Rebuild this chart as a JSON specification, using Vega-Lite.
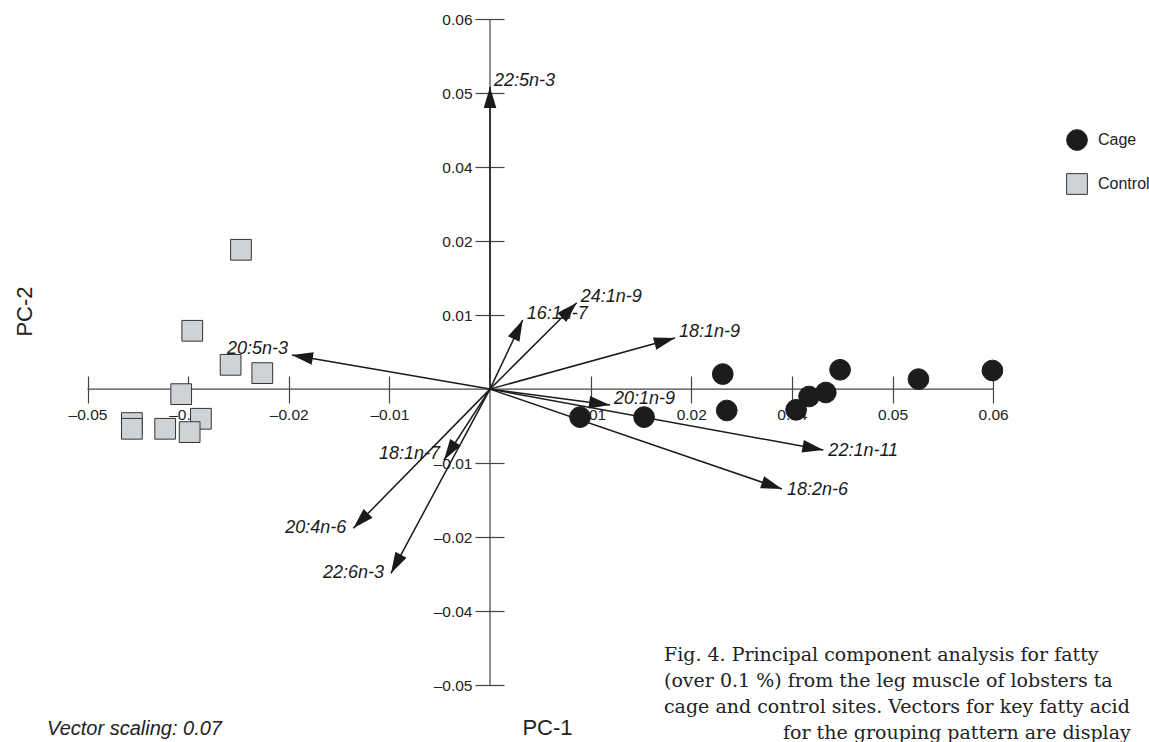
{
  "$schema": "https://vega.github.io/schema/vega-lite/v6.json",
  "width": 1127,
  "height": 718,
  "autosize": "none",
  "padding": {"left": 7, "top": 19, "right": 15, "bottom": 5},
  "background": "white",
  "config": {"view": {"stroke": null}, "font": "Liberation Sans"},
  "datasets": {
    "scores": [
      {"group": "Cage", "pc1": 0.00895, "pc2": -0.00378},
      {"group": "Cage", "pc1": 0.01531, "pc2": -0.00378},
      {"group": "Cage", "pc1": 0.02313, "pc2": 0.00203},
      {"group": "Cage", "pc1": 0.02353, "pc2": -0.00289},
      {"group": "Cage", "pc1": 0.03042, "pc2": -0.0028},
      {"group": "Cage", "pc1": 0.03171, "pc2": -0.001},
      {"group": "Cage", "pc1": 0.03337, "pc2": -0.00046},
      {"group": "Cage", "pc1": 0.03479, "pc2": 0.00261},
      {"group": "Cage", "pc1": 0.04258, "pc2": 0.00135},
      {"group": "Cage", "pc1": 0.04993, "pc2": 0.00251},
      {"group": "Control", "pc1": -0.02475, "pc2": 0.01882},
      {"group": "Control", "pc1": -0.02959, "pc2": 0.00788},
      {"group": "Control", "pc1": -0.02578, "pc2": 0.00328},
      {"group": "Control", "pc1": -0.02263, "pc2": 0.00216},
      {"group": "Control", "pc1": -0.03069, "pc2": -0.00068},
      {"group": "Control", "pc1": -0.02873, "pc2": -0.00401},
      {"group": "Control", "pc1": -0.03559, "pc2": -0.00459},
      {"group": "Control", "pc1": -0.03559, "pc2": -0.00536},
      {"group": "Control", "pc1": -0.03228, "pc2": -0.00536},
      {"group": "Control", "pc1": -0.02985, "pc2": -0.00581}
    ],
    "vectors": [
      {"label": "22:5n-3", "x": 0.0, "y": 0.0408},
      {"label": "16:1n-7", "x": 0.00325, "y": 0.00934},
      {"label": "24:1n-9", "x": 0.00862, "y": 0.01167},
      {"label": "18:1n-9", "x": 0.01838, "y": 0.0069},
      {"label": "20:5n-3", "x": -0.01968, "y": 0.00461},
      {"label": "20:1n-9", "x": 0.01193, "y": -0.00215},
      {"label": "22:1n-11", "x": 0.03313, "y": -0.00823},
      {"label": "18:2n-6", "x": 0.02902, "y": -0.0135},
      {"label": "18:1n-7", "x": -0.00457, "y": -0.00958},
      {"label": "20:4n-6", "x": -0.01358, "y": -0.01881},
      {"label": "22:6n-3", "x": -0.00984, "y": -0.02489}
    ]
  },
  "layer": [
    {
      "data": {"values": [{}]},
      "mark": {"type": "rule", "stroke": "#444", "strokeWidth": 1.2},
      "encoding": {
        "x": {
          "datum": -0.04, "type": "quantitative",
          "scale": {"domain": [-0.048, 0.064], "nice": false, "zero": false},
          "axis": {
            "values": [-0.04, -0.03, -0.02, -0.01, 0.01, 0.02, 0.03, 0.04, 0.05],
            "labelExpr": "datum.value < -0.035 ? '–0.05' : datum.value < -0.025 ? '–0.04' : datum.value < -0.015 ? '–0.02' : datum.value < 0 ? '–0.01' : datum.value < 0.015 ? '0.01' : datum.value < 0.025 ? '0.02' : datum.value < 0.035 ? '0.04' : datum.value < 0.045 ? '0.05' : '0.06'",
            "offset": -361, "tickSize": 27, "tickColor": "#444", "tickWidth": 1.2,
            "domain": false, "grid": false, "labelPadding": 4, "labelFontSize": 15.5,
            "labelColor": "#222", "labelFlush": false, "labelOverlap": false,
            "title": "PC-1", "titleX": 540, "titleY": 358, "titleBaseline": "alphabetic",
            "titleAlign": "center", "titleFontSize": 22, "titleFontWeight": "normal", "titleColor": "#222"
          }
        },
        "x2": {"datum": 0.05},
        "y": {
          "datum": 0, "type": "quantitative",
          "scale": {"domain": [-0.047, 0.05], "nice": false, "zero": false},
          "axis": {
            "values": [-0.04, -0.03, -0.02, -0.01, 0.01, 0.02, 0.03, 0.04, 0.05],
            "labelExpr": "datum.value < -0.035 ? '–0.05' : datum.value < -0.025 ? '–0.04' : datum.value < -0.015 ? '–0.02' : datum.value < 0 ? '–0.01' : datum.value < 0.015 ? '0.01' : datum.value < 0.025 ? '0.02' : datum.value < 0.035 ? '0.04' : datum.value < 0.045 ? '0.05' : '0.06'",
            "offset": -497, "tickSize": 29, "tickColor": "#444", "tickWidth": 1.2,
            "domain": false, "grid": false, "labelPadding": 3, "labelFontSize": 15.5,
            "labelColor": "#222", "labelFlush": false, "labelOverlap": false,
            "title": "PC-2", "titleX": -480, "titleY": 292, "titleBaseline": "middle",
            "titleAlign": "center", "titleFontSize": 22, "titleFontWeight": "normal", "titleColor": "#222"
          }
        }
      }
    },
    {
      "data": {"values": [{}]},
      "mark": {"type": "rule", "stroke": "#444", "strokeWidth": 1.2},
      "encoding": {
        "x": {"datum": 0, "type": "quantitative"},
        "y": {"datum": -0.04, "type": "quantitative"},
        "y2": {"datum": 0.05}
      }
    },
    {
      "data": {"name": "vectors"},
      "mark": {"type": "rule", "stroke": "#1a1a1a", "strokeWidth": 1.5},
      "encoding": {
        "x": {"field": "x", "type": "quantitative"},
        "y": {"field": "y", "type": "quantitative"},
        "x2": {"datum": 0},
        "y2": {"datum": 0}
      }
    },
    {
      "data": {"name": "vectors"},
      "transform": [{"calculate": "atan2(datum.x * 10062.5, datum.y * 7402) * 180 / PI", "as": "ang"}],
      "mark": {"type": "point", "shape": "M0,0L-0.3,1L0.3,1Z", "filled": true, "fill": "#1a1a1a", "opacity": 1, "size": 1764, "strokeWidth": 0},
      "encoding": {
        "x": {"field": "x", "type": "quantitative"},
        "y": {"field": "y", "type": "quantitative"},
        "angle": {"field": "ang", "type": "quantitative", "scale": null}
      }
    },
    {
      "data": {"name": "scores"},
      "mark": {"type": "point", "filled": true, "opacity": 1, "size": 430, "strokeWidth": 1},
      "encoding": {
        "x": {"field": "pc1", "type": "quantitative"},
        "y": {"field": "pc2", "type": "quantitative"},
        "shape": {
          "field": "group", "type": "nominal",
          "scale": {"domain": ["Cage", "Control"], "range": ["circle", "square"]},
          "legend": {"title": null, "orient": "none", "legendX": 1059, "legendY": 110, "symbolSize": 430, "labelFontSize": 16, "labelColor": "#222", "labelOffset": 10, "rowPadding": 18, "symbolStrokeWidth": 1}
        },
        "fill": {
          "field": "group", "type": "nominal",
          "scale": {"domain": ["Cage", "Control"], "range": ["#1c1c1f", "#d0d3d6"]},
          "legend": {"title": null, "orient": "none", "legendX": 1059, "legendY": 110, "symbolSize": 430, "labelFontSize": 16, "labelColor": "#222", "labelOffset": 10, "rowPadding": 18, "symbolStrokeWidth": 1}
        },
        "stroke": {
          "field": "group", "type": "nominal",
          "scale": {"domain": ["Cage", "Control"], "range": ["#1c1c1f", "#333333"]},
          "legend": {"title": null, "orient": "none", "legendX": 1059, "legendY": 110, "symbolSize": 430, "labelFontSize": 16, "labelColor": "#222", "labelOffset": 10, "rowPadding": 18, "symbolStrokeWidth": 1}
        }
      }
    },
    {
      "data": {"name": "vectors"},
      "transform": [{"filter": {"field": "label", "oneOf": ["22:5n-3", "16:1n-7", "24:1n-9", "18:1n-9", "20:1n-9"]}}],
      "mark": {"type": "text", "align": "left", "baseline": "middle", "dx": 4, "dy": -6, "fontSize": 18, "fontStyle": "italic", "fill": "#1a1a1a"},
      "encoding": {
        "x": {"field": "x", "type": "quantitative"},
        "y": {"field": "y", "type": "quantitative"},
        "text": {"field": "label"}
      }
    },
    {
      "data": {"name": "vectors"},
      "transform": [{"filter": {"field": "label", "oneOf": ["22:1n-11", "18:2n-6"]}}],
      "mark": {"type": "text", "align": "left", "baseline": "middle", "dx": 5, "dy": 1, "fontSize": 18, "fontStyle": "italic", "fill": "#1a1a1a"},
      "encoding": {
        "x": {"field": "x", "type": "quantitative"},
        "y": {"field": "y", "type": "quantitative"},
        "text": {"field": "label"}
      }
    },
    {
      "data": {"name": "vectors"},
      "transform": [{"filter": {"field": "label", "oneOf": ["20:5n-3", "18:1n-7"]}}],
      "mark": {"type": "text", "align": "right", "baseline": "middle", "dx": -4, "dy": -6, "fontSize": 18, "fontStyle": "italic", "fill": "#1a1a1a"},
      "encoding": {
        "x": {"field": "x", "type": "quantitative"},
        "y": {"field": "y", "type": "quantitative"},
        "text": {"field": "label"}
      }
    },
    {
      "data": {"name": "vectors"},
      "transform": [{"filter": {"field": "label", "oneOf": ["20:4n-6", "22:6n-3"]}}],
      "mark": {"type": "text", "align": "right", "baseline": "middle", "dx": -7, "dy": 0, "fontSize": 18, "fontStyle": "italic", "fill": "#1a1a1a"},
      "encoding": {
        "x": {"field": "x", "type": "quantitative"},
        "y": {"field": "y", "type": "quantitative"},
        "text": {"field": "label"}
      }
    },
    {
      "data": {"values": [{}]},
      "mark": {"type": "text", "align": "left", "baseline": "alphabetic", "fontSize": 20, "fontStyle": "italic", "fill": "#222", "text": "Vector scaling: 0.07"},
      "encoding": {
        "x": {"datum": -0.04402, "type": "quantitative"},
        "y": {"datum": -0.0467, "type": "quantitative"}
      }
    },
    {
      "data": {"values": [{}]},
      "mark": {"type": "text", "align": "left", "baseline": "alphabetic", "font": "DejaVu Serif", "fontSize": 19, "lineHeight": 26, "fill": "#222",
        "text": ["Fig. 4. Principal component analysis for fatty", "(over 0.1 %) from the leg muscle of lobsters ta", "cage and control sites. Vectors for key fatty acid"]},
      "encoding": {
        "x": {"datum": 0.01729, "type": "quantitative"},
        "y": {"datum": -0.0368, "type": "quantitative"}
      }
    },
    {
      "data": {"values": [{}]},
      "mark": {"type": "text", "align": "left", "baseline": "alphabetic", "font": "DejaVu Serif", "fontSize": 19, "fill": "#222", "text": "for the grouping pattern are display"},
      "encoding": {
        "x": {"datum": 0.02912, "type": "quantitative"},
        "y": {"datum": -0.04727, "type": "quantitative"}
      }
    }
  ]
}
